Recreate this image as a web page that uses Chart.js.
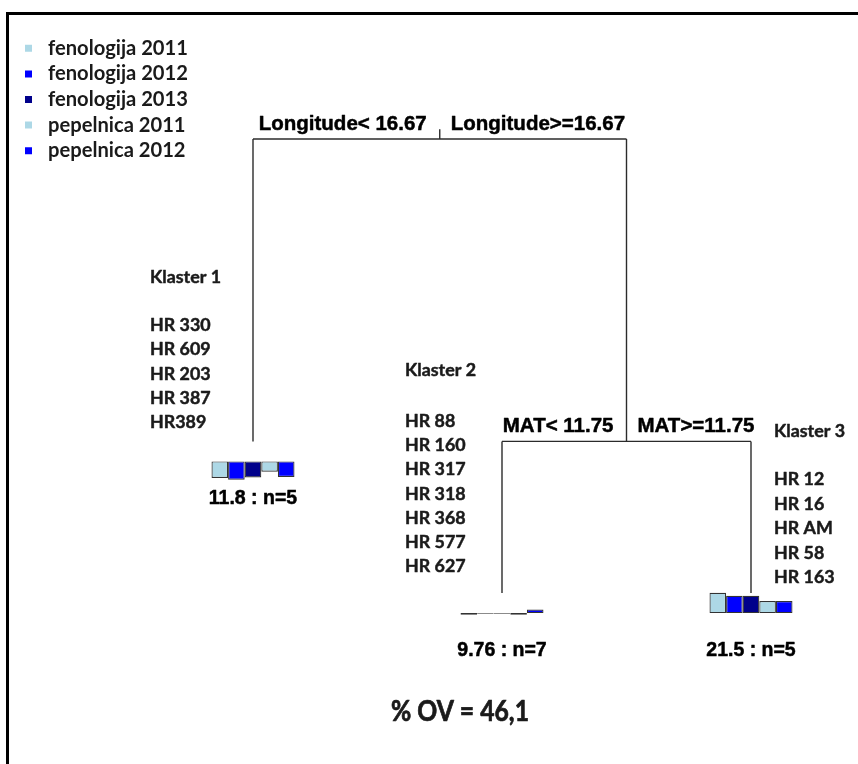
<!DOCTYPE html>
<html><head><meta charset="utf-8"><title>Regresijsko stablo</title>
<script src="https://cdn.jsdelivr.net/npm/chart.js@4.4.1/dist/chart.umd.min.js"></script>
<style>
html,body{margin:0;padding:0;background:#fff;overflow:hidden;}
#wrap{position:relative;width:858px;height:764px;overflow:hidden;}
#frame{position:absolute;left:6px;top:12px;right:-10px;bottom:-10px;border-top:3px solid #000;border-left:3px solid #000;}
#c{position:absolute;left:0;top:0;}
</style></head><body>
<div id="wrap"><div id="frame"></div><canvas id="c" width="858" height="764"></canvas></div>
<script>
// ---------------- data ----------------
const seriesNames = ['fenologija 2011','fenologija 2012','fenologija 2013','pepelnica 2011','pepelnica 2012'];
const seriesColors = ['#add8e6','#0000ff','#00008b','#add8e6','#0000ff'];

// standardized leaf means per series: [Klaster 1, Klaster 2, Klaster 3]
const fenologija2011 = [-0.83, -0.08, 1.02];
const fenologija2012 = [-0.92, -0.03, 0.87];
const fenologija2013 = [-0.80, -0.03, 0.87];
const pepelnica2011  = [-0.52, -0.08, 0.60];
const pepelnica2012  = [-0.78,  0.18, 0.60];

const leafNames = ['Klaster 1','Klaster 2','Klaster 3'];
const leafMeans = ['11.8','9.76','21.5'];
const leafN = [5, 7, 5];
const leafExplained = [30.7, 46.1, 46.1];   // cumulative % of variance explained at each leaf

const splitVars = ['Longitude','MAT'];
const splitCuts = ['16.67','11.75'];
const splitExplained = [0, 30.7];           // cumulative % explained at each split node
const splitLeftChild = ['L0','L1'];
const splitRightChild = ['S1','L2'];
const percentOV = '46,1';

const klaster1 = ['HR 330','HR 609','HR 203','HR 387','HR389'];
const klaster2 = ['HR 88','HR 160','HR 317','HR 318','HR 368','HR 577','HR 627'];
const klaster3 = ['HR 12','HR 16','HR AM','HR 58','HR 163'];

// ---------------- layout / style ----------------
const W = 858, H = 764;
const LEAF1_PX = 253, LEAF_STEP_PX = 249;
const ROOT_PX_Y = 139, PX_PER_PCT = 9.85;
const ROOT_STUB = 1.0;
const BAR_UNIT_PX = 20, BAR_GAP_PX = 20, BAR_GROUP_PX = 83;
const LINE_COLOR = '#2b2b2b';
const clusterLayout = [
  {x:150, head:283, first:331, step:24.3},
  {x:405, head:376, first:427, step:24.2},
  {x:774, head:437, first:485, step:24.6}
];
const clusterLists = [klaster1, klaster2, klaster3];
const seriesValues = [fenologija2011, fenologija2012, fenologija2013, pepelnica2011, pepelnica2012];

function measure(font, text){ const c = document.createElement('canvas').getContext('2d'); c.font = font; return c.measureText(text).width; }

// legend geometry
const legendFont = Math.min(22, Math.max(14, 100 * 140 / measure('bold 100px Lato', seriesNames[0])));
const LEG_BOX = 39 - legendFont;
const LEG_ITEM = Math.max(legendFont, LEG_BOX);
const LEG_PAD = 25.6 - LEG_ITEM;
const PAD_L = 28.5 - LEG_BOX / 2 - LEG_PAD;
const LEG_TITLE_PAD = (48.3 - LEG_ITEM / 2) - LEG_PAD - 10;

// scale ranges
const xMin = 1 - (LEAF1_PX - PAD_L) / LEAF_STEP_PX;
const xMax = xMin + (W - PAD_L) / LEAF_STEP_PX;
const yMin = -ROOT_PX_Y / PX_PER_PCT;
const yMax = yMin + H / PX_PER_PCT;
const BAR_K = BAR_UNIT_PX / PX_PER_PCT;
const BAR_OFF = BAR_GAP_PX / PX_PER_PCT;

// ---------------- tree geometry from structure ----------------
function nodeX(id){
  if (id[0] === 'L') return Number(id.slice(1)) + 1;
  const s = Number(id.slice(1));
  return (nodeX(splitLeftChild[s]) + nodeX(splitRightChild[s])) / 2;
}
function nodeY(id){
  return id[0] === 'L' ? leafExplained[Number(id.slice(1))] : splitExplained[Number(id.slice(1))];
}
const segments = [];
segments.push([{x:nodeX('S0'), y:-ROOT_STUB}, {x:nodeX('S0'), y:0}]);
splitVars.forEach((v, s) => {
  const y = splitExplained[s];
  const l = splitLeftChild[s], r = splitRightChild[s];
  segments.push([{x:nodeX(l), y}, {x:nodeX(r), y}]);
  segments.push([{x:nodeX(l), y}, {x:nodeX(l), y:nodeY(l)}]);
  segments.push([{x:nodeX(r), y}, {x:nodeX(r), y:nodeY(r)}]);
});

const barDatasets = seriesNames.map((name, j) => ({
  type:'bar', label:name,
  data: leafExplained.map((ov, i) => ({x:i + 1, y:[ov + BAR_OFF, ov + BAR_OFF - seriesValues[j][i] * BAR_K]})),
  backgroundColor: seriesColors[j], borderColor:'#333333', borderWidth:1.2, borderSkipped:false,
  barPercentage:1, categoryPercentage: BAR_GROUP_PX / LEAF_STEP_PX, order:2
}));
const lineDatasets = segments.map((seg, k) => ({
  type:'line', label:'edge' + k, data:seg, borderColor:LINE_COLOR, borderWidth:1.4,
  pointRadius:0, fill:false, tension:0, order:1
}));

function heavyText(ctx, text, x, y, sx, sw){
  ctx.save(); ctx.translate(x, y); ctx.scale(sx, 1);
  ctx.lineWidth = sw; ctx.strokeStyle = ctx.fillStyle; ctx.lineJoin = 'round';
  ctx.strokeText(text, 0, 0); ctx.fillText(text, 0, 0); ctx.restore();
}

const treeText = {
  id:'treeText',
  afterDraw(chart){
    const ctx = chart.ctx, xs = chart.scales.x, ys = chart.scales.y;
    ctx.save();
    ctx.textBaseline = 'alphabetic';
    ctx.fillStyle = '#000';
    ctx.font = 'bold 20.5px "Liberation Sans", Arial, sans-serif';
    splitVars.forEach((v, s) => {
      const px = xs.getPixelForValue(nodeX('S' + s));
      const py = ys.getPixelForValue(splitExplained[s]) - 9;
      ctx.textAlign = 'right'; heavyText(ctx, v + '< ' + splitCuts[s], px - 13, py, 1, 0.5);
      ctx.textAlign = 'left';  heavyText(ctx, v + '>=' + splitCuts[s], px + 11, py, 1, 0.5);
    });
    ctx.font = 'bold 19.5px "Liberation Sans", Arial, sans-serif';
    ctx.textAlign = 'center';
    leafMeans.forEach((m, i) => {
      heavyText(ctx, m + ' : n=' + leafN[i], xs.getPixelForValue(i + 1), ys.getPixelForValue(leafExplained[i]) + 63, 1, 0.5);
    });
    // cluster member lists
    ctx.fillStyle = '#1a1a1a';
    ctx.textAlign = 'left';
    ctx.font = 'bold 16.5px Lato, "Open Sans", sans-serif';
    const sx = 71 / ctx.measureText(leafNames[0]).width;
    leafNames.forEach((name, i) => {
      const L = clusterLayout[i];
      heavyText(ctx, name, L.x, L.head, sx, 0.45);
      clusterLists[i].forEach((t, k) => heavyText(ctx, t, L.x, L.first + k * L.step, sx, 0.45));
    });
    // % OV
    ctx.font = 'bold 28px Lato, "Open Sans", sans-serif';
    ctx.textAlign = 'center';
    const ovText = '% OV = ' + percentOV;
    const sx2 = 138 / ctx.measureText(ovText).width;
    heavyText(ctx, ovText, 460, 721, sx2, 0.7);
    ctx.restore();
  }
};

new Chart(document.getElementById('c'), {
  type:'bar',
  data:{ datasets: barDatasets.concat(lineDatasets) },
  options:{
    responsive:false, animation:false, events:[],
    layout:{ padding:{left:PAD_L, top:0, right:0, bottom:0}, autoPadding:false },
    scales:{
      x:{ type:'linear', display:false, min:xMin, max:xMax, bounds:'data', offset:false,
          ticks:{ stepSize:1, includeBounds:false } },
      y:{ type:'linear', display:false, min:yMin, max:yMax, bounds:'data', reverse:true }
    },
    plugins:{
      tooltip:{ enabled:false },
      legend:{
        display:true, position:'chartArea', align:'start',
        title:{ display:true, text:'', font:{size:10, lineHeight:1}, padding:{top:LEG_TITLE_PAD, bottom:0} },
        labels:{
          font:{ family:'Lato', weight:'bold', size:legendFont },
          color:'#1a1a1a', boxWidth:LEG_BOX, boxHeight:LEG_BOX, padding:LEG_PAD,
          generateLabels: () => seriesNames.map((name, i) => ({
            text:name, fillStyle:seriesColors[i], strokeStyle:'#ffffff', lineWidth:LEG_BOX - 7,
            fontColor:'#1a1a1a', hidden:false, datasetIndex:i
          }))
        }
      }
    }
  },
  plugins:[treeText]
});
</script></body></html>
